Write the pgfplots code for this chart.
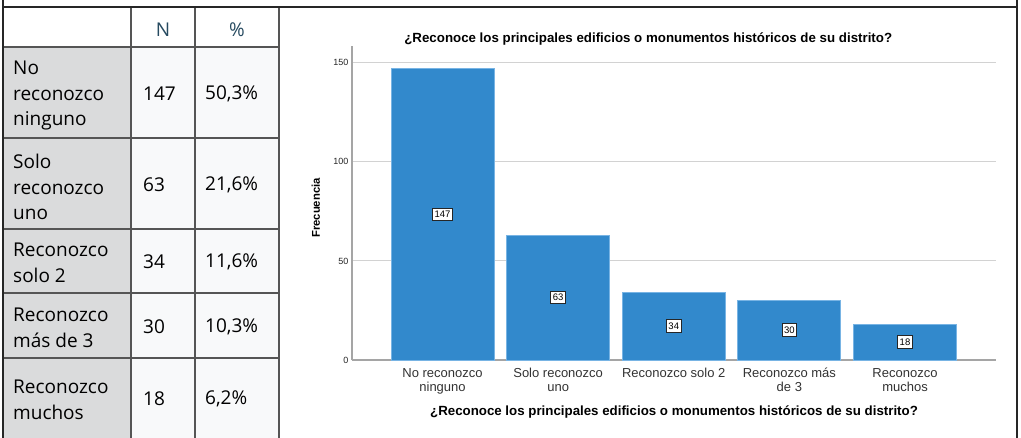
\documentclass[border=0pt]{standalone}
\usepackage{pgfplots}
\pgfplotsset{compat=1.18}
\usepackage{pgfplotstable}
\usepackage{fontspec}
\setmainfont{Liberation Sans}
\newfontfamily\tablefont{Open Sans}
\definecolor{barblue}{RGB}{50,137,204}
\definecolor{baredge}{RGB}{120,180,228}
\definecolor{labgrey}{RGB}{218,219,220}
\definecolor{cellbg}{RGB}{248,249,250}
\definecolor{hdrblue}{RGB}{38,74,96}
\definecolor{tline}{RGB}{85,85,85}
\definecolor{axisgrey}{RGB}{165,165,165}
\definecolor{gridgrey}{RGB}{210,210,210}

\pgfplotstableread{
x n
0 147
1 63
2 34
3 30
4 18
}\datatable

\begin{document}
\begin{tikzpicture}[x=1pt,y=-1pt]
\useasboundingbox (0,0) rectangle (1021,438);
\fill[white] (0,0) rectangle (1021,438);
% table backgrounds
\fill[labgrey] (3,47) rectangle (131,438);
\fill[cellbg] (131,47) rectangle (279,438);
% table lines
\begin{scope}[tline, line width=1.2pt]
\draw (3,47) -- (279,47);
\draw (3,138) -- (279,138);
\draw (3,229) -- (279,229);
\draw (3,293) -- (279,293);
\draw (3,358) -- (279,358);
\draw (131,7) -- (131,438);
\draw (195,7) -- (195,438);
\draw (279,7) -- (279,438);
\end{scope}
% outer frame
\draw[black!85, line width=1.3pt] (3,0) -- (3,438);
\draw[black!85, line width=1.3pt] (1017,0) -- (1017,438);
\draw[black!85, line width=1.3pt] (3,7) -- (1017,7);
% table text
\begin{scope}[every node/.style={inner sep=0pt, font=\tablefont\fontsize{19}{25.5}\selectfont}]
\node[hdrblue, anchor=center] at (163,30) {N};
\node[hdrblue, anchor=center] at (237,30) {\%};
\node[anchor=west, align=left] at (13,96) {No\\reconozco\\ninguno};
\node[anchor=west, align=left] at (13,187) {Solo\\reconozco\\uno};
\node[anchor=west, align=left] at (13,263) {Reconozco\\solo 2};
\node[anchor=west, align=left] at (13,328) {Reconozco\\más de 3};
\node[anchor=west, align=left] at (13,400) {Reconozco\\muchos};
\node[anchor=west] at (143,94) {147};
\node[anchor=west] at (143,185) {63};
\node[anchor=west] at (143,262) {34};
\node[anchor=west] at (143,327) {30};
\node[anchor=west] at (143,399) {18};
\node[anchor=west] at (205,94) {50,3\%};
\node[anchor=west] at (205,185) {21,6\%};
\node[anchor=west] at (205,262) {11,6\%};
\node[anchor=west] at (205,327) {10,3\%};
\node[anchor=west] at (205,399) {6,2\%};
\end{scope}
% chart
\begin{scope}[x=1pt,y=1pt]
\begin{axis}[
  at={(352pt,-360pt)}, anchor=south west,
  scale only axis, width=644pt, height=314pt,
  xmin=-0.783, xmax=4.787, ymin=0, ymax=158.5,
  axis x line=bottom, axis y line=left,
  axis line style={-, axisgrey, line width=1.4pt},
  ytick={0,50,100,150},
  ymajorgrids, grid style={gridgrey, line width=1pt},
  xtick={0,1,2,3,4},
  xticklabels={{No reconozco\\ninguno},{Solo reconozco\\uno},{Reconozco solo 2},{Reconozco más\\de 3},{Reconozco\\muchos}},
  xticklabel style={align=center, font=\fontsize{13}{14}\selectfont, text=black!80, inner sep=2pt, yshift=-6pt},
  yticklabel style={font=\fontsize{9}{10}\selectfont, text=black!85},
  major tick length=0pt,
  /pgf/number format/assume math mode=true,
  title={¿Reconoce los principales edificios o monumentos históricos de su distrito?},
  title style={at={(axis description cs:0.46,1.029)}, anchor=center, yshift=-8pt, font=\bfseries\fontsize{13.3}{15}\selectfont},
  xlabel={¿Reconoce los principales edificios o monumentos históricos de su distrito?},
  xlabel style={at={(axis description cs:0.5,-0.166)}, anchor=center, font=\bfseries\fontsize{13.3}{15}\selectfont},
  ylabel={Frecuencia},
  ylabel style={at={(axis description cs:-0.056,0.484)}, anchor=center, rotate=0, font=\bfseries\fontsize{11.3}{13}\selectfont},
  clip=false,
]
\addplot[ybar, bar width=103pt, fill=barblue, draw=baredge, line width=0.8pt] table[x=x, y=n] {\datatable};
\addplot[draw=none, nodes near coords, point meta=explicit,
  nodes near coords style={draw=black!85, fill=white, font=\fontsize{9.5}{11}\selectfont, inner xsep=2pt, inner ysep=3pt, anchor=center, line width=1pt}]
  table[x=x, y expr=\thisrow{n}/2, meta=n] {\datatable};
\end{axis}
\end{scope}
\end{tikzpicture}
\end{document}
